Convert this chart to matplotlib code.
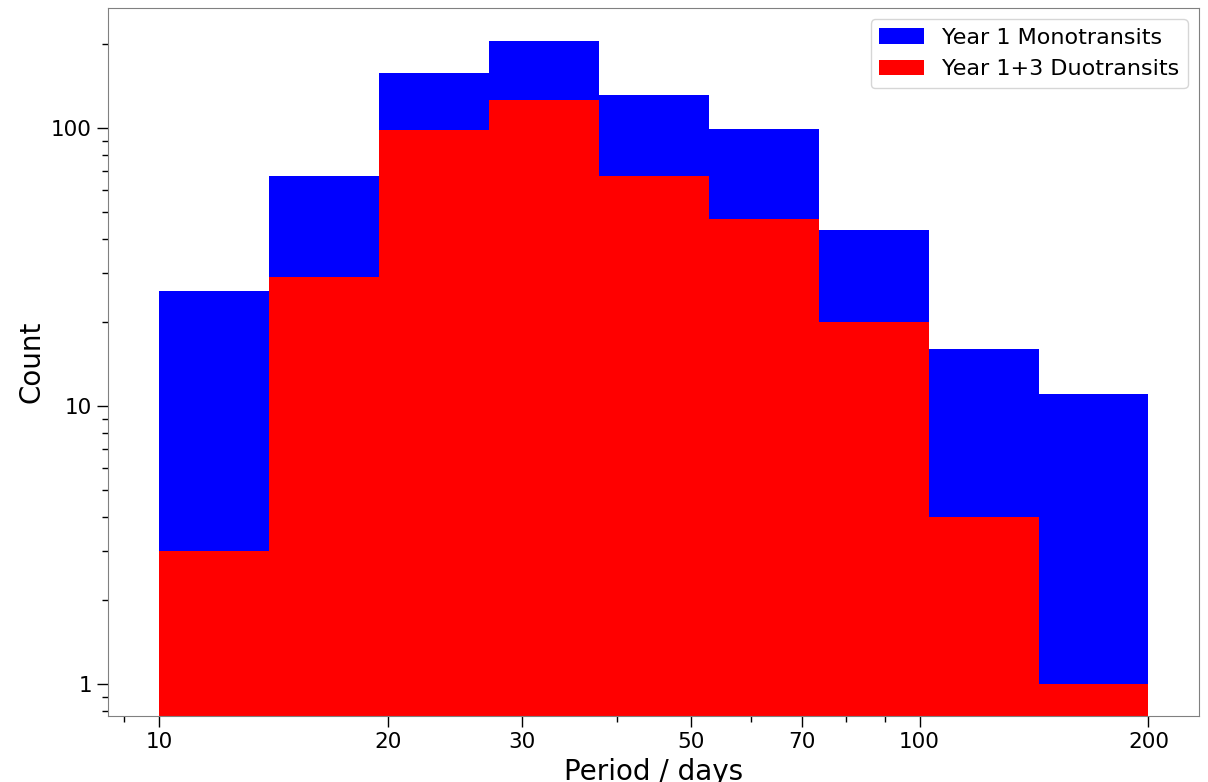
import numpy as np
import matplotlib.pyplot as plt
from matplotlib.ticker import FixedLocator, FixedFormatter, NullFormatter

# bin edges: 9 log-spaced bins between 10 and 200 days
edges = np.logspace(1, np.log10(200), 10)

mono_counts = [26, 67, 158, 206, 131, 99, 43, 16, 11]
duo_counts = [3, 29, 98, 126, 67, 47, 20, 4, 1]

xticks = [10, 20, 30, 50, 70, 100, 200]
xticklabels = ["10", "20", "30", "50", "70", "100", "200"]

fig = plt.figure(figsize=(12.08, 7.82), dpi=100)
ax = fig.add_axes([0.0894, 0.0844, 0.9031, 0.9054])

widths = np.diff(edges)
ax.bar(edges[:-1], mono_counts, width=widths, align="edge", color="blue",
       edgecolor="none", label="Year 1 Monotransits")
ax.bar(edges[:-1], duo_counts, width=widths, align="edge", color="red",
       edgecolor="none", label="Year 1+3 Duotransits")

ax.set_xscale("log")
ax.set_yscale("log")
ax.set_xlim(8.57, 233)
ax.set_ylim(0.767, 270)

ax.xaxis.set_major_locator(FixedLocator(xticks))
ax.xaxis.set_major_formatter(FixedFormatter(xticklabels))
ax.xaxis.set_minor_formatter(NullFormatter())
ax.set_yticks([1, 10, 100])
ax.set_yticklabels(["1", "10", "100"])

ax.tick_params(which="major", length=8, width=1, labelsize=15.5)
ax.tick_params(which="minor", length=4, width=1)
for s in ax.spines.values():
    s.set_color("grey")

ax.set_xlabel("Period / days", fontsize=20)
ax.set_ylabel("Count", fontsize=20)
ax.legend(loc="upper right", fontsize=16)

fig.savefig("out.png", dpi=100)
